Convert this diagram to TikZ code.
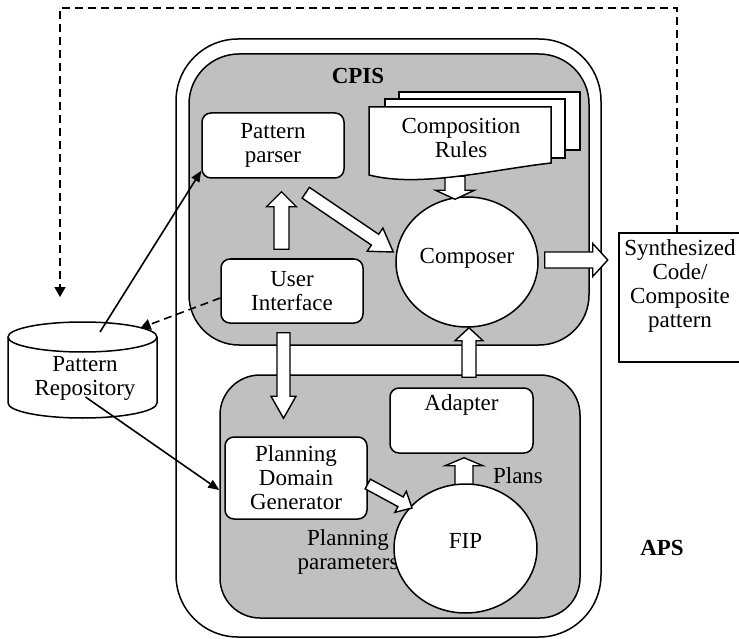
\documentclass[tikz,border=0pt]{standalone}
\usepackage{fontspec}
\setmainfont{Liberation Serif}
\usetikzlibrary{calc,arrows.meta,shapes.geometric}
\definecolor{grayfill}{RGB}{192,192,192}
\newcommand{\dfont}{\fontsize{23}{24}\selectfont}
\newcommand{\barr}[5]{%
  \coordinate (bah) at ($(#2)!#5!(#1)$);
  \draw[blockarr] ($(#1)!#3!90:(#2)$) -- ($(bah)!#3!-90:(#1)$) -- ($(bah)!#4!-90:(#1)$) -- (#2) -- ($(bah)!#4!90:(#1)$) -- ($(bah)!#3!90:(#1)$) -- ($(#1)!#3!-90:(#2)$) -- cycle;}
\tikzset{
  lw/.style={line width=1.5pt},
  blockarr/.style={draw, fill=white, line width=1.4pt, line join=miter},
  gbox/.style={draw, fill=grayfill, line width=1.5pt, inner sep=0pt},
  wbox/.style={draw, fill=white, rounded corners=9pt, line width=1.5pt, align=center, inner sep=0pt, font=\dfont},
  circ/.style={ellipse, draw, fill=white, line width=1.5pt, inner sep=0pt},
  txt/.style={font=\dfont, align=center, inner sep=0pt},
  arr/.style={line width=1.6pt, -{Triangle[length=11pt,width=9pt]}},
  darr/.style={line width=1.6pt, dash pattern=on 8pt off 5pt, -{Triangle[length=10pt,width=11pt]}}
}
\begin{document}
\begin{tikzpicture}[x=1pt,y=-1pt]
\useasboundingbox (0,0) rectangle (739,639);
% outer APS box
\node[draw, lw, rounded corners=62pt, minimum width=425pt, minimum height=598pt, inner sep=0pt] (aps) at (388.5,338) {};
% gray boxes
\node[gbox, rounded corners=50pt, minimum width=400pt, minimum height=291pt] (cpis) at (389,199.5) {};
\node[gbox, rounded corners=40pt, minimum width=360pt, minimum height=243pt] (plan) at (400,496.5) {};
\node[font=\dfont\bfseries, inner sep=0pt] (cpislbl) at (358,76) {CPIS};
\node[font=\dfont\bfseries, inner sep=0pt] (apslbl) at (662,548) {APS};
% white boxes
\node[wbox, minimum width=142pt, minimum height=65pt] (parser) at (273,145.5) {Pattern\\parser};
\node[wbox, minimum width=142pt, minimum height=64pt] (ui) at (292,291) {User\\Interface};
\node[wbox, minimum width=143pt, minimum height=65pt] (adapter) at (461.5,420.5) {};
\node[txt] (adaptlbl) at (461.5,405) {Adapter};
\node[wbox, minimum width=142pt, minimum height=82pt] (pdg) at (296,478) {Planning\\Domain\\Generator};
% composer
\node[circ, minimum width=142pt, minimum height=130pt] (composer) at (467,262) {};
\node[txt] (complbl) at (467,258) {Composer};
% planning parameters text (partly covered by FIP)
\node[txt] (pp) at (348,552) {Planning\\parameters};
\node[txt] (plans) at (518,476) {Plans};
% FIP -> Adapter arrow (under FIP)
\coordinate (a8s) at ($(adapter.south)+(2.5,35)$);
\coordinate (a8e) at ($(adapter.south)+(2.5,4)$);
\barr{a8s}{a8e}{9pt}{19pt}{8pt}
\node[circ, minimum width=143pt, minimum height=129pt] (fip) at (465.5,548.5) {};
\node[txt] (fiplbl) at (465.5,541) {FIP};
% block arrows
\coordinate (a1s) at ($(composer.north)+(-12,-20)$);
\coordinate (a1e) at ($(composer.north)+(-12,3)$);
\barr{a1s}{a1e}{10pt}{19.5pt}{9pt}
\coordinate (a2s) at ($(ui.north)+(-10.5,-9)$);
\coordinate (a2e) at ($(parser.south)+(8.5,13)$);
\barr{a2s}{a2e}{7.5pt}{15pt}{15pt}
\coordinate (a3s) at ($(parser.south east)+(-39,14)$);
\coordinate (a3e) at ($(composer.west)+(-2,-10)$);
\barr{a3s}{a3e}{6.5pt}{14pt}{22pt}
\coordinate (a4s) at ($(ui.south)+(-8.5,9)$);
\coordinate (a4e) at ($(pdg.north)+(-12.5,-18)$);
\barr{a4s}{a4e}{6.5pt}{12.5pt}{22pt}
\coordinate (a5s) at ($(adapter.north)+(7.5,-10)$);
\coordinate (a5e) at ($(composer.south)+(2,0)$);
\barr{a5s}{a5e}{7pt}{14pt}{13pt}
\coordinate (a6s) at ($(composer.east)+(6,-2)$);
\coordinate (a6e) at ($(composer.east)+(69,-2)$);
\barr{a6s}{a6e}{8pt}{16.5pt}{15pt}
\coordinate (a7s) at ($(pdg.east)+(0,6)$);
\coordinate (a7e) at ($(fip.center)+(-53.5,-40.5)$);
\barr{a7s}{a7e}{5.5pt}{12pt}{13pt}
% composition rules documents
\draw[lw, fill=white] (399,92) rectangle (580,150);
\draw[lw, fill=white] (385,99) rectangle (565,158);
\draw[lw, fill=white] (369,107) -- (551,107) -- (551,163) .. controls (490,170) and (420,188) .. (369,175) -- cycle;
\node[txt] (rules) at (461,138) {Composition\\Rules};
% synthesized box
\draw[lw] (740,233) -- (619,233) -- (619,362) -- (740,362);
\node[txt] (syn) at (680,286) {Synthesized\\Code/\\Composite\\pattern};
\coordinate (syntop) at (677,233);
\coordinate (dashend) at (60,297);
% repository cylinder
\node[minimum width=149pt, minimum height=96pt, inner sep=0pt] (repo) at (82.5,370) {};
\draw[lw, fill=white] (8,337) -- (8,403) arc[start angle=180, end angle=0, x radius=74.5, y radius=15] -- (157,337);
\draw[lw, fill=white] (82.5,337) ellipse [x radius=74.5, y radius=15];
\node[txt] (repotxt) at (85,378) {Pattern\\Repository};
% connectors
\draw[arr] ($(repo.center)+(17.5,-38)$) -- ($(parser.south west)+(0,-8)$);
\draw[arr] ($(repo.center)+(3,27)$) -- ($(pdg.west)+(-5,12)$);
\draw[darr] ($(ui.west)+(0,7)$) -- ($(repo.center)+(58,-42)$);
\draw[darr] (syntop) -- ++(0,-225) -| (dashend);
\end{tikzpicture}
\end{document}
